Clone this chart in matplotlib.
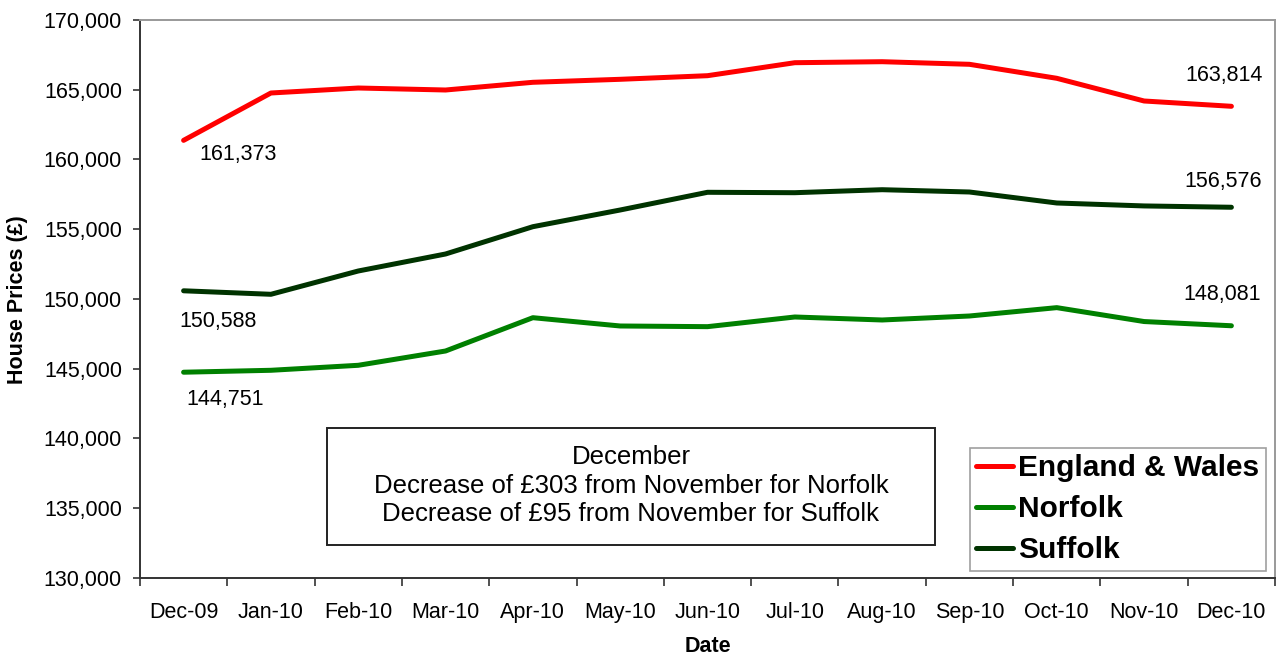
import matplotlib.pyplot as plt
from matplotlib.patches import Rectangle

plt.rcParams['font.family'] = ['Liberation Sans', 'DejaVu Sans']

# 月份與房價資料
months = ["Dec-09", "Jan-10", "Feb-10", "Mar-10", "Apr-10", "May-10", "Jun-10",
          "Jul-10", "Aug-10", "Sep-10", "Oct-10", "Nov-10", "Dec-10"]
england_wales = [161373, 164767, 165125, 164982, 165534, 165749, 166008,
                 166939, 167011, 166824, 165821, 164194, 163814]
norfolk = [144751, 144889, 145247, 146272, 148660, 148065, 148017,
           148710, 148495, 148781, 149380, 148384, 148081]
suffolk = [150588, 150337, 152007, 153226, 155183, 156380, 157649,
           157620, 157835, 157670, 156882, 156671, 156576]

fig = plt.figure(figsize=(12.78, 6.58), dpi=100)
ax = fig.add_axes([0.1095, 0.1216, 0.8882, 0.848])

x = list(range(len(months)))
ax.plot(x, england_wales, color="#ff0000", lw=3.6, label="England & Wales",
        solid_capstyle="round", solid_joinstyle="round")
ax.plot(x, norfolk, color="#008000", lw=3.6, label="Norfolk",
        solid_capstyle="round", solid_joinstyle="round")
ax.plot(x, suffolk, color="#003300", lw=3.6, label="Suffolk",
        solid_capstyle="round", solid_joinstyle="round")

ax.set_xlim(-0.5, len(months) - 0.5)
ax.set_ylim(130000, 170000)
ax.set_yticks(range(130000, 170001, 5000))
ax.set_yticklabels([f"{v:,}" for v in range(130000, 170001, 5000)])

# 類別軸：刻度在類別之間
ax.set_xticks([i - 0.5 for i in range(len(months) + 1)])
ax.set_xticklabels([])
ax.set_xticks(x, minor=True)
ax.set_xticklabels(months, minor=True)
ax.tick_params(axis="x", which="minor", length=0, pad=17, labelsize=15.5)
ax.tick_params(axis="x", which="major", length=6, width=1.2, color="#333333")
ax.tick_params(axis="y", length=5, width=1.2, pad=8, labelsize=15.5, color="#333333")

for side in ["left", "bottom"]:
    ax.spines[side].set_color("#333333")
    ax.spines[side].set_linewidth(1.4)
for side in ["top", "right"]:
    ax.spines[side].set_color("#999999")
    ax.spines[side].set_linewidth(1.4)

# 起點與終點數值標籤
def label(series, idx, dx, dy):
    ax.annotate(f"{series[idx]:,}", (idx, series[idx]), xytext=(dx, dy),
                textcoords="offset pixels", ha="center", va="center", fontsize=15.5)

label(england_wales, 0, 54, -14)
label(suffolk, 0, 34, -31)
label(norfolk, 0, 42, -27)
label(england_wales, 12, -7, 31)
label(suffolk, 12, -8, 26)
label(norfolk, 12, -9, 31)

# 說明框
ax.add_patch(Rectangle((0.1648, 0.0591), 0.5356, 0.2097, transform=ax.transAxes,
                       fill=False, edgecolor="#222222", lw=1.4))
ax.text(0.4326, 0.165,
        "December\nDecrease of £303 from November for Norfolk\nDecrease of £95 from November for Suffolk",
        transform=ax.transAxes, ha="center", va="center", fontsize=18.5, linespacing=1.24)

leg = ax.legend(loc="lower right", bbox_to_anchor=(0.992, 0.013),
                prop={"weight": "bold", "size": 21.5}, frameon=True, fancybox=False,
                handlelength=1.24, handletextpad=0.17, labelspacing=0.43,
                borderpad=0.22, borderaxespad=0, edgecolor="#888888")
leg.get_frame().set_linewidth(1.2)

fig.text(18 / 1278, 1 - 300 / 658, "House Prices (£)", rotation=90, ha="center",
         va="center", fontsize=15.5, fontweight="bold")
fig.text(708 / 1278, 1 - 647 / 658, "Date", ha="center", va="center",
         fontsize=15.5, fontweight="bold")

fig.savefig("out.png", dpi=100)
